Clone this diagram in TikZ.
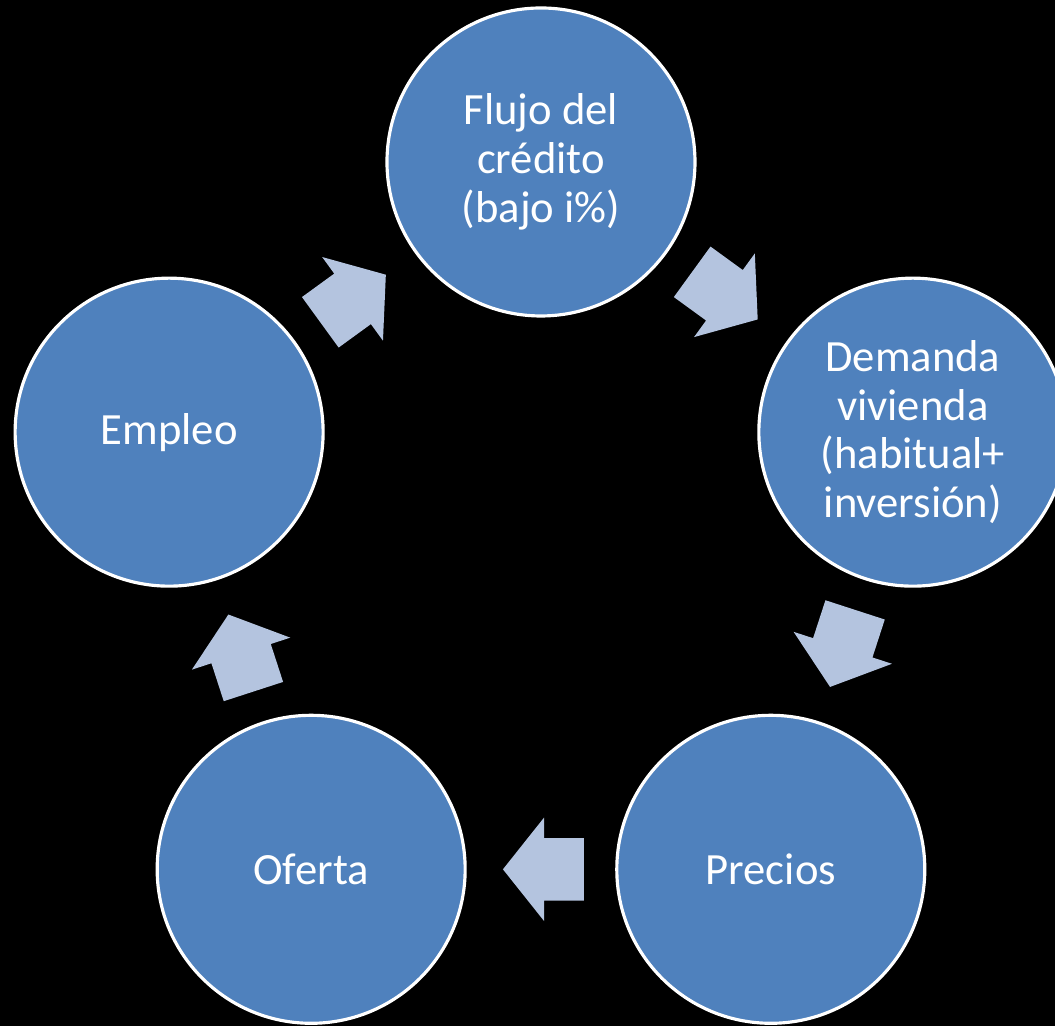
\documentclass[tikz,border=0pt]{standalone}
\usepackage{fontspec}
\setmainfont{Carlito}
\usepackage{tikz}
\usetikzlibrary{shapes.arrows}
\definecolor{cycblue}{RGB}{79,129,189}
\definecolor{cycarr}{RGB}{180,196,223}
\tikzset{
  cnode/.style={circle, fill=cycblue, draw=white, line width=0.9pt, minimum size=3.08cm,
      inner sep=0pt, align=center, text=white, font=\fontsize{12.7}{13.9}\selectfont},
  blk/.style={single arrow, fill=cycarr, draw=none, minimum height=0.81cm,
      inner xsep=0pt, inner ysep=0.305cm,
      single arrow head extend=0.205cm, single arrow tip angle=103,
      sloped, allow upside down, pos=0.4},
}
\begin{document}
\begin{tikzpicture}
 \useasboundingbox (-5.41,-4.73) rectangle (5.14,5.53);
 \fill[black] (-5.41,-4.73) rectangle (5.14,5.53);
 % five stages on a pentagon
 \foreach \ang/\nm/\txt in {90/credito/{Flujo del\\crédito\\(bajo i\%)},
     18/demanda/{Demanda\\vivienda\\(habitual+\\inversión)},
     -54/precios/{Precios}, -126/oferta/{Oferta}, 162/empleo/{Empleo}}
   \node[cnode] (\nm) at (\ang:3.91) {\txt};
 % block arrows between them
 \foreach \a/\b in {empleo/credito, credito/demanda, demanda/precios, precios/oferta, oferta/empleo}
   \path (\a) -- node[blk] {} (\b);
\end{tikzpicture}
\end{document}
